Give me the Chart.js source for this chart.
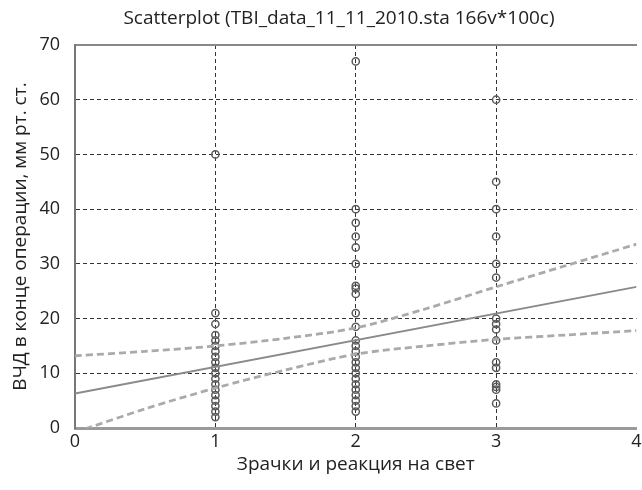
<!DOCTYPE html>
<html>
<head>
<meta charset="utf-8">
<script src="https://cdn.jsdelivr.net/npm/chart.js@4/dist/chart.umd.min.js"></script>
<style>
  html, body { margin: 0; padding: 0; background: #fff; }
  #wrap { width: 642px; height: 490px; }
</style>
</head>
<body>
<div id="wrap"><canvas id="scatterChart" width="642" height="490"></canvas></div>
<script>
// values
const groups = [1, 2, 3];
const icpAt1 = [50, 21, 19, 17, 16, 15, 14, 13, 12, 11, 10, 9, 8, 7, 6, 5, 4, 3, 2];
const icpAt2 = [67, 40, 37.5, 35, 33, 30, 26, 25.5, 24.5, 21, 18.5, 16, 15, 14, 13, 12, 11, 10, 9, 8, 7, 6, 5, 4, 3];
const icpAt3 = [60, 45, 40, 35, 30, 27.5, 20, 19, 18, 16, 12, 11, 8, 7.5, 7, 4.5];

const fitX = [0, 4];
const fitY = [6.3, 25.8];

const bandX = [0, 0.5, 1, 1.5, 2, 2.5, 3, 3.5, 4];
const bandUpper = [13.2, 14.0, 15.0, 16.4, 18.3, 21.8, 25.8, 29.7, 33.6];
const bandLower = [-0.8, 3.5, 7.3, 10.6, 13.5, 15.0, 16.2, 17.0, 17.8];

const xTicks = [0, 1, 2, 3, 4];
const yTicks = [0, 10, 20, 30, 40, 50, 60, 70];

const titleText = 'Scatterplot (TBI_data_11_11_2010.sta 166v*100c)';
const xTitle = 'Зрачки и реакция на свет';
const yTitle = 'ВЧД в конце операции, мм рт. ст.';

const fontFamily = "'Open Sans', 'DejaVu Sans', sans-serif";

const points = [];
[icpAt1, icpAt2, icpAt3].forEach((vals, i) => {
  vals.forEach(v => points.push({x: groups[i], y: v}));
});
const toXY = (xs, ys) => xs.map((x, i) => ({x: x, y: ys[i]}));

const edgeGrid = (lo, hi) => ctx => {
  const v = ctx.tick ? ctx.tick.value : null;
  return (v === lo || v === hi) ? 'rgba(0,0,0,0)' : '#333';
};

// title is a bit left of the plot centre in the original
const titlePlugin = {
  id: 'plot_title',
  afterDraw: (chart) => {
    const {ctx} = chart;
    ctx.save();
    ctx.font = '19px ' + fontFamily;
    ctx.fillStyle = '#222';
    ctx.textAlign = 'center';
    ctx.textBaseline = 'middle';
    ctx.fillText(titleText, 339, 19);
    ctx.restore();
  }
};

const config = {
  type: 'scatter',
  data: {
    datasets: [
      {
        label: 'upper',
        data: toXY(bandX, bandUpper),
        showLine: true,
        borderColor: '#aaaaaa',
        borderWidth: 2.8,
        borderDash: [7, 4],
        pointRadius: 0,
        tension: 0.3
      },
      {
        label: 'lower',
        data: toXY(bandX, bandLower),
        showLine: true,
        borderColor: '#aaaaaa',
        borderWidth: 2.8,
        borderDash: [7, 4],
        pointRadius: 0,
        tension: 0.3
      },
      {
        label: 'fit',
        data: toXY(fitX, fitY),
        showLine: true,
        borderColor: '#8a8a8a',
        borderWidth: 1.8,
        pointRadius: 0
      },
      {
        label: 'points',
        data: points,
        pointRadius: 3.6,
        pointBorderWidth: 1.5,
        pointBorderColor: '#5a5a5a',
        pointBackgroundColor: 'rgba(0,0,0,0)',
        borderColor: '#5a5a5a'
      }
    ]
  },
  options: {
    responsive: false,
    animation: false,
    layout: { padding: { top: 45, left: 0, right: 0, bottom: 0 } },
    plugins: {
      legend: { display: false },
      tooltip: { enabled: false },
      title: { display: false }
    },
    scales: {
      x: {
        type: 'linear',
        position: 'bottom',
        min: 0,
        max: 4,
        afterBuildTicks: s => { s.ticks = xTicks.map(v => ({value: v})); },
        afterFit: s => { s.height = 62; s.paddingRight = 0; s.paddingLeft = 0; },
        ticks: {
          color: '#222',
          padding: 3,
          font: { family: fontFamily, size: 18 }
        },
        grid: { color: edgeGrid(0, 4), lineWidth: 1, drawTicks: false },
        border: { color: '#9a9a9a', width: 3, dash: [4, 3] },
        title: {
          display: true,
          text: xTitle,
          color: '#222',
          font: { family: fontFamily, size: 19 },
          padding: { top: 0, bottom: 14 }
        }
      },
      xTop: {
        type: 'linear',
        position: 'top',
        min: 0,
        max: 4,
        afterFit: s => { s.height = 0; s.paddingRight = 0; s.paddingLeft = 0; },
        ticks: { display: false },
        grid: { display: false, drawTicks: false },
        border: { color: '#888', width: 2 }
      },
      y: {
        type: 'linear',
        min: 0,
        max: 70,
        afterBuildTicks: s => { s.ticks = yTicks.map(v => ({value: v})); },
        afterFit: s => { s.width = 75; s.paddingTop = 0; s.paddingBottom = 0; },
        ticks: {
          color: '#222',
          padding: 15,
          font: { family: fontFamily, size: 18 }
        },
        grid: { color: edgeGrid(0, 70), lineWidth: 1, drawTicks: false },
        border: { color: '#777', width: 2, dash: [4, 3] },
        title: {
          display: true,
          text: yTitle,
          color: '#222',
          font: { family: fontFamily, size: 19 },
          padding: { top: 9, bottom: 0 }
        }
      }
    }
  },
  plugins: [titlePlugin]
};

const myChart = new Chart(document.getElementById('scatterChart'), config);
</script>
</body>
</html>
